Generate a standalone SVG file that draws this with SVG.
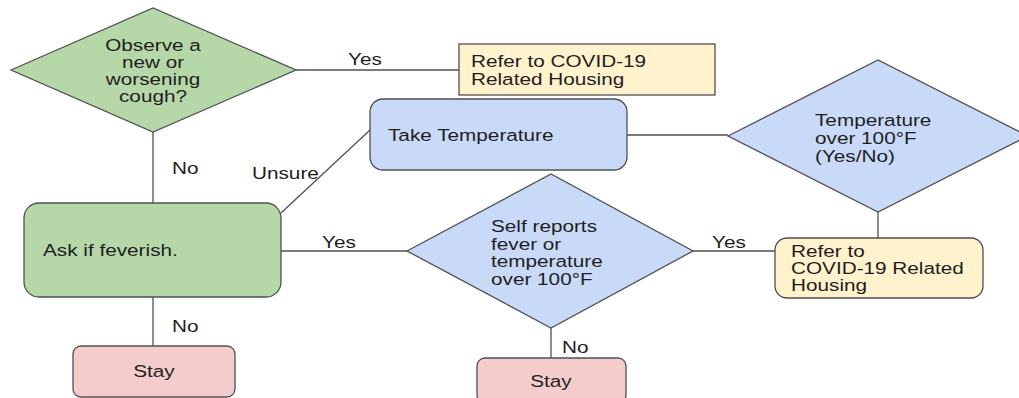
<svg xmlns="http://www.w3.org/2000/svg" width="1019" height="398" viewBox="0 0 1019 398">
<style>
.bg{fill:#ffffff}
.sh{stroke:#505050;stroke-width:1.3}
.green{fill:#b6d7a8}
.blue{fill:#c9daf8}
.yellow{fill:#fff2cc}
.pink{fill:#f4cccc}
.ln{stroke:#505050;stroke-width:1.3;fill:none}
.t{font-family:"Liberation Sans",Arial,sans-serif;font-size:17px;fill:#1e1e1e}
.m{text-anchor:middle}
</style>
<rect class="bg" x="0" y="0" width="1019" height="398"/>
<g id="connectors">
<line class="ln" x1="296" y1="70" x2="459" y2="70"/>
<line class="ln" x1="153" y1="132" x2="153" y2="203"/>
<line class="ln" x1="281" y1="213" x2="370" y2="130"/>
<line class="ln" x1="627" y1="135" x2="728" y2="135"/>
<line class="ln" x1="878" y1="212" x2="878" y2="238"/>
<line class="ln" x1="281" y1="251" x2="407" y2="251"/>
<line class="ln" x1="693" y1="251" x2="775" y2="251"/>
<line class="ln" x1="153" y1="297" x2="153" y2="346"/>
<line class="ln" x1="551" y1="328" x2="551" y2="358"/>
<text class="t" transform="translate(348 65) scale(1.22 1)">Yes</text>
<text class="t" transform="translate(172 174) scale(1.22 1)">No</text>
<text class="t" transform="translate(252 179) scale(1.22 1)">Unsure</text>
<text class="t" transform="translate(322 248) scale(1.22 1)">Yes</text>
<text class="t" transform="translate(712 248) scale(1.22 1)">Yes</text>
<text class="t" transform="translate(172 332) scale(1.22 1)">No</text>
<text class="t" transform="translate(562 353) scale(1.22 1)">No</text>
</g>
<g id="cough">
<polygon class="green sh" points="11,70 153,8 296,70 153,132"/>
<text class="t m" transform="translate(153 0) scale(1.22 1)"><tspan x="0" y="51">Observe a</tspan><tspan x="0" y="68">new or</tspan><tspan x="0" y="85">worsening</tspan><tspan x="0" y="102">cough?</tspan></text>
</g>
<g id="refer1">
<rect class="yellow sh" x="459" y="44" width="256" height="51"/>
<text class="t" transform="translate(471 0) scale(1.22 1)"><tspan x="0" y="67">Refer to COVID-19</tspan><tspan x="0" y="85">Related Housing</tspan></text>
</g>
<g id="take-temp">
<rect class="blue sh" x="370" y="99" width="257" height="71" rx="13"/>
<text class="t" transform="translate(388 141) scale(1.22 1)">Take Temperature</text>
</g>
<g id="temp-check">
<polygon class="blue sh" points="728,136 878,60 1028,136 878,212"/>
<text class="t" transform="translate(815 0) scale(1.22 1)"><tspan x="0" y="126">Temperature</tspan><tspan x="0" y="144">over 100°F</tspan><tspan x="0" y="162">(Yes/No)</tspan></text>
</g>
<g id="ask">
<rect class="green sh" x="24" y="203" width="257" height="94" rx="15"/>
<text class="t" transform="translate(43 256) scale(1.22 1)">Ask if feverish.</text>
</g>
<g id="self-report">
<polygon class="blue sh" points="407,251 551,174 693,251 551,328"/>
<text class="t" transform="translate(491 0) scale(1.22 1)"><tspan x="0" y="232">Self reports</tspan><tspan x="0" y="250">fever or</tspan><tspan x="0" y="267">temperature</tspan><tspan x="0" y="285">over 100°F</tspan></text>
</g>
<g id="refer2">
<rect class="yellow sh" x="775" y="238" width="208" height="60" rx="12"/>
<text class="t" transform="translate(791 0) scale(1.22 1)"><tspan x="0" y="257">Refer to</tspan><tspan x="0" y="274">COVID-19 Related</tspan><tspan x="0" y="291">Housing</tspan></text>
</g>
<g id="stay1">
<rect class="pink sh" x="73" y="346" width="162" height="51" rx="8"/>
<text class="t m" transform="translate(154 377) scale(1.22 1)">Stay</text>
</g>
<g id="stay2">
<rect class="pink sh" x="477" y="358" width="149" height="45" rx="8"/>
<text class="t m" transform="translate(551 387) scale(1.22 1)">Stay</text>
</g>
</svg>
